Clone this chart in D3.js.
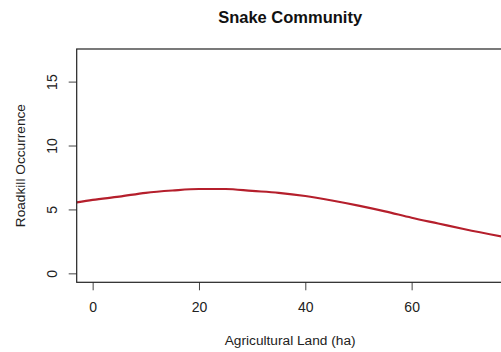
<!DOCTYPE html>
<html>
<head>
<meta charset="utf-8">
<script src="https://cdn.jsdelivr.net/npm/d3@7"></script>
<style>
  html, body { margin: 0; padding: 0; background: #fff; }
  svg { display: block; font-family: "Liberation Sans", Arial, sans-serif; }
</style>
</head>
<body>
<div id="chart"></div>
<script>
// Fitted roadkill curve for the snake community against agricultural land area
const agriLand = [-3, 0, 5, 10, 15, 20, 25, 30, 35, 40, 45, 50, 55, 60, 65, 70, 77.3];
const roadkill = [5.55, 5.75, 6.0, 6.3, 6.48, 6.6, 6.6, 6.45, 6.3, 6.05, 5.7, 5.3, 4.85, 4.35, 3.9, 3.45, 2.85];
const xTicks = [0, 20, 40, 60];
const yTicks = [0, 5, 10, 15];

const width = 501, height = 352;
const plot = { left: 76.7, top: 49, right: 503.6, bottom: 282.3 };
const tickFont = "14px", labelFont = "13.7px", titleFont = "16.5px";

const svg = d3.select("#chart").append("svg")
  .attr("width", width).attr("height", height);

const x = d3.scaleLinear().domain([-3.0, 77.3]).range([plot.left, plot.right]);
const y = d3.scaleLinear().domain([-0.70, 17.55]).range([plot.bottom, plot.top]);

svg.append("clipPath").attr("id", "plotClip")
  .append("rect")
  .attr("x", plot.left).attr("y", plot.top)
  .attr("width", plot.right - plot.left).attr("height", plot.bottom - plot.top);

// Curve
const line = d3.line()
  .x((d, i) => x(agriLand[i]))
  .y((d, i) => y(roadkill[i]))
  .curve(d3.curveMonotoneX);

svg.append("path")
  .datum(roadkill)
  .attr("clip-path", "url(#plotClip)")
  .attr("fill", "none")
  .attr("stroke", "#b51f2c")
  .attr("stroke-width", 2.2)
  .attr("d", line);

// Axes
const xAxis = d3.axisBottom(x).tickValues(xTicks).tickSize(8).tickPadding(9);
const gx = svg.append("g")
  .attr("transform", `translate(0,${plot.bottom})`)
  .call(xAxis);
gx.select(".domain").remove();
gx.selectAll(".tick line").attr("stroke", "#444");
gx.selectAll(".tick text")
  .attr("y", 24.5).attr("dy", 0)
  .attr("dominant-baseline", "central")
  .attr("fill", "#222")
  .style("font-size", tickFont)
  .style("font-family", "Liberation Sans, Arial, sans-serif");

const yAxis = d3.axisLeft(y).tickValues(yTicks).tickSize(8).tickFormat(d3.format("d"));
const gy = svg.append("g")
  .attr("transform", `translate(${plot.left},0)`)
  .call(yAxis);
gy.select(".domain").remove();
gy.selectAll(".tick line").attr("stroke", "#444");
gy.selectAll(".tick text")
  .attr("x", 0).attr("dy", 0)
  .attr("transform", "translate(-25,0) rotate(-90)")
  .attr("text-anchor", "middle")
  .attr("dominant-baseline", "central")
  .attr("fill", "#222")
  .style("font-size", tickFont)
  .style("font-family", "Liberation Sans, Arial, sans-serif");

// Plot frame
svg.append("rect")
  .attr("x", plot.left).attr("y", plot.top)
  .attr("width", plot.right - plot.left).attr("height", plot.bottom - plot.top)
  .attr("fill", "none").attr("stroke", "#222").attr("stroke-width", 1.2);

const midX = (plot.left + plot.right) / 2;
const midY = (plot.top + plot.bottom) / 2;

// Title and axis labels
svg.append("text")
  .attr("x", midX).attr("y", 16.5)
  .attr("text-anchor", "middle").attr("dominant-baseline", "central")
  .style("font-size", titleFont).style("font-weight", "bold")
  .attr("fill", "#111")
  .text("Snake Community");

svg.append("text")
  .attr("x", midX).attr("y", 340)
  .attr("text-anchor", "middle").attr("dominant-baseline", "central")
  .style("font-size", labelFont)
  .attr("fill", "#222")
  .text("Agricultural Land (ha)");

svg.append("text")
  .attr("transform", `translate(20,${midY}) rotate(-90)`)
  .attr("text-anchor", "middle").attr("dominant-baseline", "central")
  .style("font-size", labelFont)
  .attr("fill", "#222")
  .text("Roadkill Occurrence");
</script>
</body>
</html>
